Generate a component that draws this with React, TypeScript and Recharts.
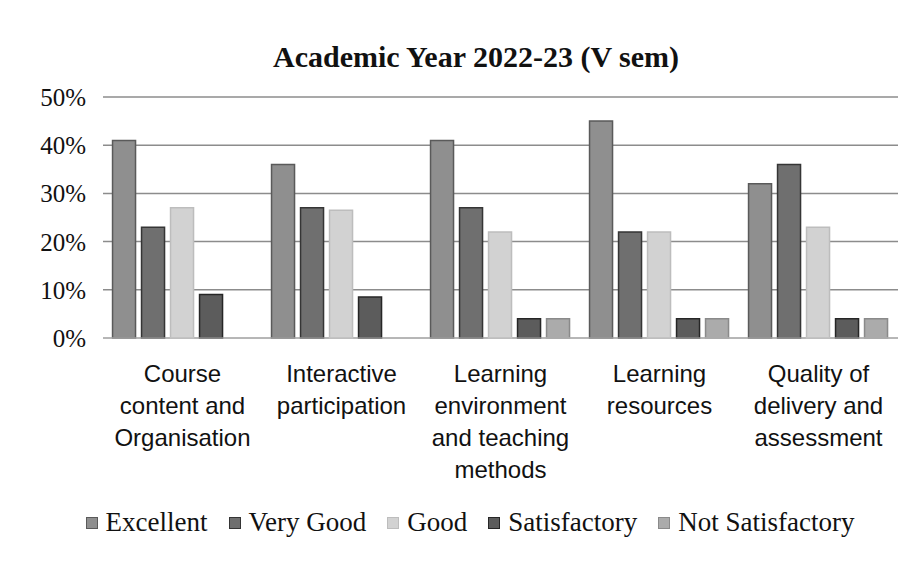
import React from "react";
import {
  BarChart,
  Bar,
  XAxis,
  YAxis,
  CartesianGrid,
  Legend,
} from "recharts";

// Feedback categories with the line breaks used in the picture
const categories = [
  "Course content and Organisation",
  "Interactive participation",
  "Learning environment and teaching methods",
  "Learning resources",
  "Quality of delivery and assessment",
];
const categoryLines = [
  ["Course", "content and", "Organisation"],
  ["Interactive", "participation"],
  ["Learning", "environment", "and teaching", "methods"],
  ["Learning", "resources"],
  ["Quality of", "delivery and", "assessment"],
];

// Percent of responses
const excellent = [41, 36, 41, 45, 32];
const veryGood = [23, 27, 27, 22, 36];
const good = [27, 26.5, 22, 22, 23];
const satisfactory = [9, 8.5, 4, 4, 4];
const notSatisfactory = [0, 0, 4, 4, 4];

const yTicks = [0, 10, 20, 30, 40, 50];

const series = [
  { key: "excellent", name: "Excellent", fill: "#8f8f8f", stroke: "#5a5a5a" },
  { key: "veryGood", name: "Very Good", fill: "#6f6f6f", stroke: "#353535" },
  { key: "good", name: "Good", fill: "#d2d2d2", stroke: "#bdbdbd" },
  { key: "satisfactory", name: "Satisfactory", fill: "#5c5c5c", stroke: "#262626" },
  { key: "notSatisfactory", name: "Not Satisfactory", fill: "#ababab", stroke: "#8a8a8a" },
];

const data = categories.map((c, i) => ({
  category: c,
  excellent: excellent[i],
  veryGood: veryGood[i],
  good: good[i],
  satisfactory: satisfactory[i],
  notSatisfactory: notSatisfactory[i],
}));

const CategoryTick = ({ x, y, payload }: any) => {
  const idx = categories.indexOf(payload.value);
  const lines = categoryLines[idx] || [payload.value];
  return (
    <text
      x={x}
      y={y}
      textAnchor="middle"
      fontFamily="'Liberation Sans', Arial, sans-serif"
      fontSize={24}
      fill="#111"
    >
      {lines.map((l: string, i: number) => (
        <tspan key={i} x={x} dy={i === 0 ? 36 : 32}>
          {l}
        </tspan>
      ))}
    </text>
  );
};

const PercentTick = ({ y, payload }: any) => (
  <text
    x={86}
    y={y}
    dy={9}
    textAnchor="end"
    fontFamily="'Liberation Serif', 'Times New Roman', serif"
    fontSize={25}
    fill="#111"
  >
    {payload.value + "%"}
  </text>
);

const LegendContent = () => (
  <div
    style={{
      display: "flex",
      justifyContent: "center",
      gap: 21,
      fontFamily: "'Liberation Serif', 'Times New Roman', serif",
      fontSize: 27,
      color: "#111",
    }}
  >
    {series.map((s) => (
      <div key={s.key} style={{ display: "flex", alignItems: "center" }}>
        <span
          style={{
            display: "inline-block",
            width: 10,
            height: 10,
            background: s.fill,
            border: `1px solid ${s.stroke}`,
            marginRight: 8,
          }}
        />
        {s.name}
      </div>
    ))}
  </div>
);

export default function App() {
  return (
    <div
      style={{
        position: "absolute",
        left: 0,
        top: 0,
        width: 915,
        height: 566,
        background: "#fff",
      }}
    >
      <div
        style={{
          position: "absolute",
          top: 40,
          left: 0,
          width: 952,
          textAlign: "center",
          fontFamily: "'Liberation Serif', 'Times New Roman', serif",
          fontWeight: "bold",
          fontSize: 30,
          color: "#111",
        }}
      >
        Academic Year 2022-23 (V sem)
      </div>
      <BarChart
        width={915}
        height={566}
        data={data}
        margin={{ top: 97, right: 17, left: 0, bottom: 79 }}
        barCategoryGap="6%"
        barGap={6}
      >
        <CartesianGrid vertical={false} stroke="#8c8c8c" strokeWidth={1.5} />
        <XAxis
          dataKey="category"
          interval={0}
          tickLine={false}
          axisLine={{ stroke: "#c4c4c4" }}
          height={118}
          tick={<CategoryTick />}
        />
        <YAxis
          domain={[0, 50]}
          ticks={yTicks}
          width={103}
          axisLine={false}
          tickLine={false}
          tick={<PercentTick />}
        />
        <Legend
          content={<LegendContent />}
          wrapperStyle={{ position: "absolute", top: 507, left: 0, width: 940 }}
        />
        {series.map((s) => (
          <Bar
            key={s.key}
            dataKey={s.key}
            name={s.name}
            fill={s.fill}
            stroke={s.stroke}
            strokeWidth={1.5}
            isAnimationActive={false}
          />
        ))}
      </BarChart>
    </div>
  );
}
